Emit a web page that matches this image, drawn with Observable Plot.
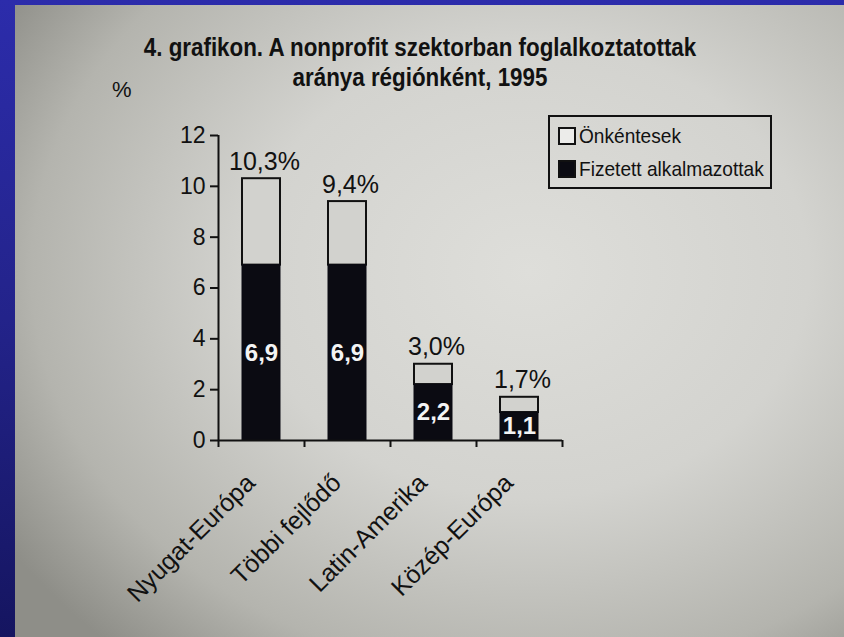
<!DOCTYPE html>
<html>
<head>
<meta charset="utf-8">
<script src="https://cdn.jsdelivr.net/npm/d3@7"></script>
<script src="https://cdn.jsdelivr.net/npm/@observablehq/plot@0.6"></script>
<style>
  html, body { margin: 0; padding: 0; }
  body {
    width: 844px; height: 637px; overflow: hidden; position: relative;
    background: linear-gradient(to bottom, #2c2cab 0%, #23238a 50%, #151560 100%);
  }
  #paper {
    position: absolute; left: 15px; top: 5px; width: 829px; height: 632px;
    background: radial-gradient(ellipse 75% 80% at 62% 42%, #dededa 0%, #d3d3cf 45%, #b4b4ae 80%, #8e8e88 100%);
  }
  #title {
    position: absolute; left: 20px; top: 32px; width: 800px; text-align: center;
    font-family: "Liberation Sans Narrow", "Arial Narrow", "Liberation Sans", sans-serif;
    font-weight: bold; font-size: 26px; line-height: 30px; color: #111;
    transform: scaleX(0.86); transform-origin: 400px 0;
  }
  #pct {
    position: absolute; left: 112px; top: 77px;
    font-family: "Liberation Sans", Arial, sans-serif; font-size: 22px; color: #111;
  }
  #legend {
    position: absolute; left: 548px; top: 115px; width: 224px; height: 74px;
    border: 2px solid #111; box-sizing: border-box;
    font-family: "Liberation Sans Narrow", "Arial Narrow", "Liberation Sans", sans-serif;
    font-size: 21px; color: #111;
  }
  .item { position: absolute; left: 8px; display: flex; align-items: center; white-space: nowrap; }
  .item span { display: inline-block; transform: scaleX(0.91); transform-origin: 0 50%; }
  .sw { width: 14px; height: 14px; border: 2px solid #111; margin-right: 3px; }
  #chart { position: absolute; left: 0; top: 0; }
</style>
</head>
<body>
<div id="paper"></div>
<div id="chart"></div>
<div id="title">4. grafikon. A nonprofit szektorban foglalkoztatottak<br>aránya régiónként, 1995</div>
<div id="pct">%</div>
<div id="legend"></div>
<script>
const categories = ["Nyugat-Európa", "Többi fejlődő", "Latin-Amerika", "Közép-Európa"];
const paid = [6.9, 6.9, 2.2, 1.1];          // Fizetett alkalmazottak
const total = [10.3, 9.4, 3.0, 1.7];        // összesen (fizetett + önkéntes)
const paidLabels = ["6,9", "6,9", "2,2", "1,1"];
const totalLabels = ["10,3%", "9,4%", "3,0%", "1,7%"];
const yTicks = [0, 2, 4, 6, 8, 10, 12];
const seriesNames = ["Önkéntesek", "Fizetett alkalmazottak"];
const seriesColors = ["#d2d2ce", "#0b0b12"];

const rows = categories.map((c, i) => ({
  cat: c, i, paid: paid[i], total: total[i],
  paidLabel: paidLabels[i], totalLabel: totalLabels[i]
}));
const xBounds = d3.range(categories.length + 1);

const font = "'Liberation Sans', Arial, sans-serif";

const chart = Plot.plot({
  width: 844,
  height: 637,
  marginLeft: 218,
  marginRight: 282,
  marginTop: 135,
  marginBottom: 197,
  style: { background: "transparent", fontFamily: font, color: "#111", overflow: "visible" },
  x: { type: "linear", domain: [0, categories.length] },
  y: { domain: [0, 12] },
  marks: [
    Plot.rectY(rows, {
      x1: "i", x2: d => d.i + 1, y1: "paid", y2: "total",
      insetLeft: 24, insetRight: 24,
      fill: seriesColors[0], stroke: "#111", strokeWidth: 2
    }),
    Plot.rectY(rows, {
      x1: "i", x2: d => d.i + 1, y1: 0, y2: "paid",
      insetLeft: 24, insetRight: 24,
      fill: seriesColors[1], stroke: seriesColors[1], strokeWidth: 1
    }),
    Plot.axisY({ ticks: yTicks, tickSize: 8, tickPadding: 5, fontSize: 23, strokeWidth: 2, label: null }),
    Plot.axisX({ ticks: xBounds, tickSize: 7, tickFormat: () => "", strokeWidth: 2, label: null }),
    Plot.ruleX([0], { y1: 0, y2: 12, stroke: "#111", strokeWidth: 2 }),
    Plot.ruleY([0], { stroke: "#111", strokeWidth: 2 }),
    Plot.text(rows, {
      x: d => d.i + 0.5, y: "total", text: "totalLabel",
      dx: 3, dy: -17, fontSize: 25, fill: "#111"
    }),
    Plot.text(rows, {
      x: d => d.i + 0.5, y: d => d.paid / 2, text: "paidLabel",
      fontSize: 24, fontWeight: "bold", fill: "#f4f4f4"
    }),
    Plot.text(rows, {
      x: d => d.i + 0.5, y: 0, text: "cat",
      rotate: -45, textAnchor: "end", lineAnchor: "bottom",
      dx: -5, dy: 44, fontSize: 25, fill: "#111"
    })
  ]
});
document.getElementById("chart").appendChild(chart);

const legend = document.getElementById("legend");
seriesNames.forEach((name, k) => {
  const item = document.createElement("div");
  item.className = "item";
  item.style.top = (k === 0 ? 7 : 40) + "px";
  const sw = document.createElement("div");
  sw.className = "sw";
  sw.style.background = k === 0 ? "#ececea" : seriesColors[1];
  item.appendChild(sw);
  const t = document.createElement("span");
  t.textContent = name;
  item.appendChild(t);
  legend.appendChild(item);
});
</script>
</body>
</html>
